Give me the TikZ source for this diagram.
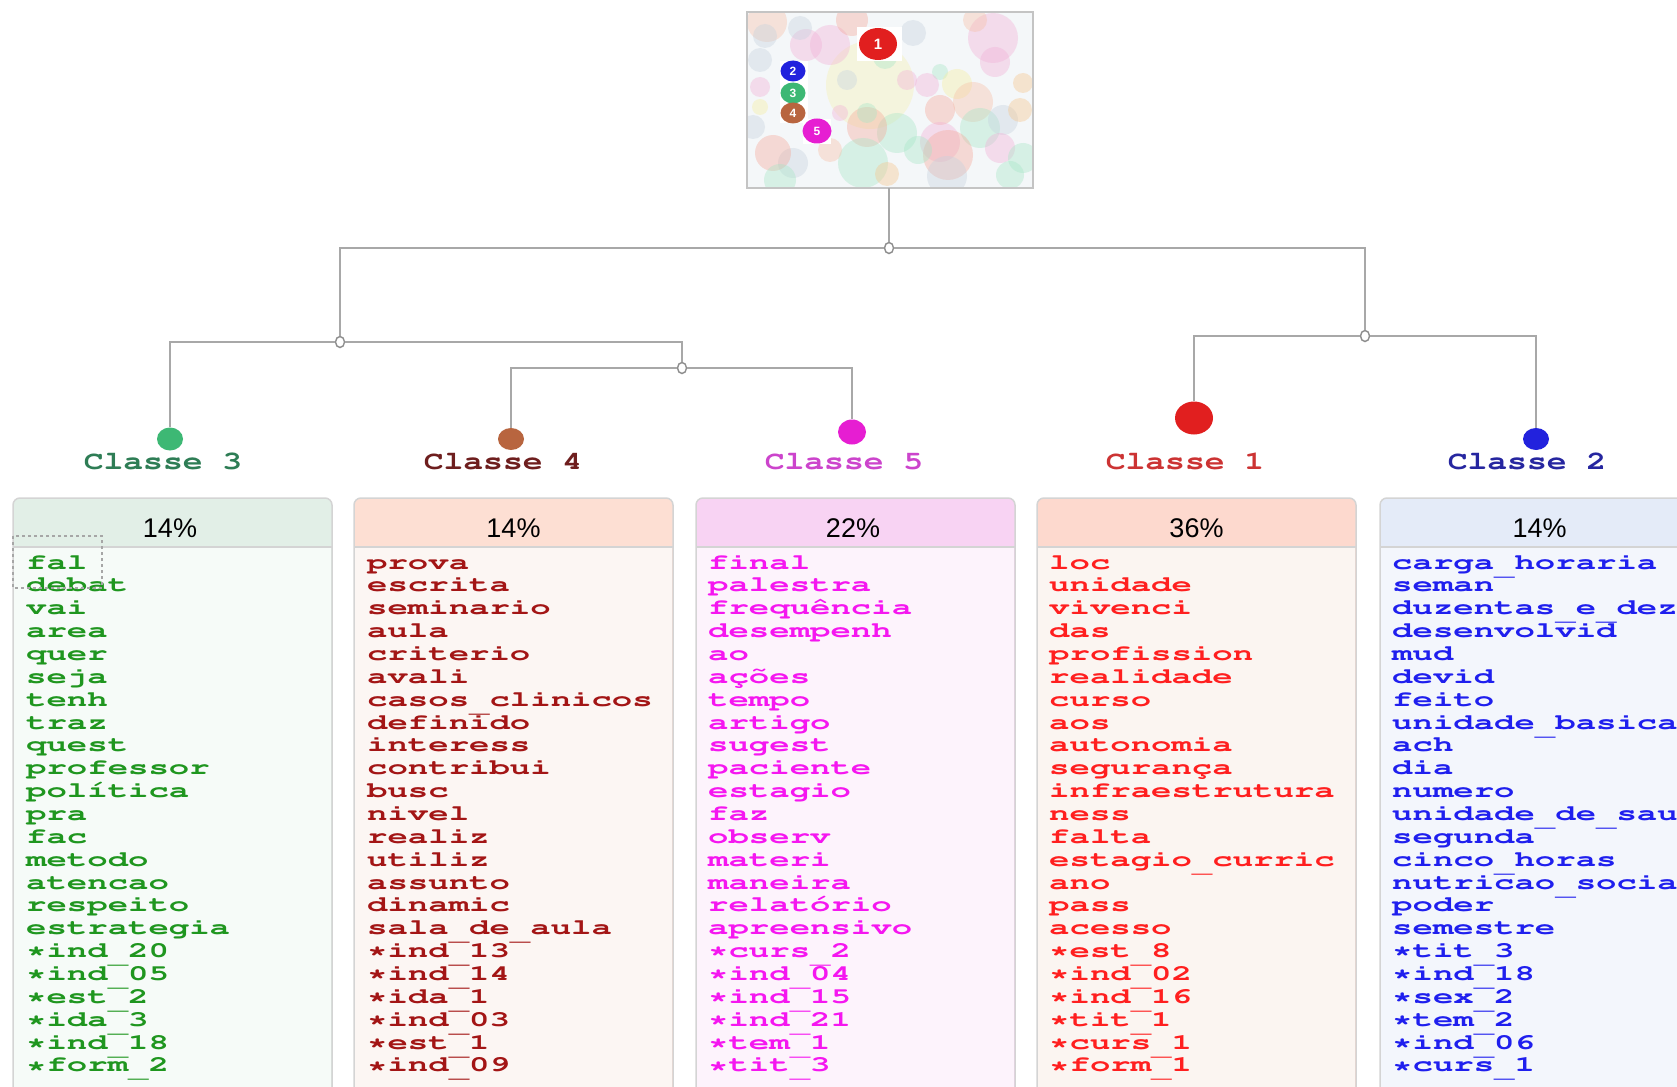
\documentclass[tikz,border=0pt]{standalone}
\usepackage[T1]{fontenc}
\usepackage{fontspec}
\usepackage{graphicx}
\setmainfont{Liberation Sans}
\usetikzlibrary{shapes.geometric}

\definecolor{treeline}{HTML}{A8A8A8}
\definecolor{juncline}{HTML}{8E8E8E}
\definecolor{thumbline}{HTML}{C4C4C4}
\definecolor{thumbbg}{HTML}{F4F7F9}
\definecolor{boxline}{HTML}{D4D4D4}
\definecolor{dA}{HTML}{3DB874}
\definecolor{dB}{HTML}{B8653F}
\definecolor{dC}{HTML}{E61ED2}
\definecolor{dD}{HTML}{E11F1F}
\definecolor{dE}{HTML}{2222DD}
\definecolor{lA}{HTML}{2E7D55}
\definecolor{lB}{HTML}{6E1E1E}
\definecolor{lC}{HTML}{CC44CC}
\definecolor{lD}{HTML}{CC3333}
\definecolor{lE}{HTML}{2626A0}
\definecolor{wA}{HTML}{1F961F}
\definecolor{wB}{HTML}{A31515}
\definecolor{wC}{HTML}{F516F0}
\definecolor{wD}{HTML}{FF1F1F}
\definecolor{wE}{HTML}{1F1FEE}
\definecolor{hA}{HTML}{E2EFE7}
\definecolor{hB}{HTML}{FDDFD3}
\definecolor{hC}{HTML}{F8D3F3}
\definecolor{hD}{HTML}{FDD9CE}
\definecolor{hE}{HTML}{E4EBF8}
\definecolor{bA}{HTML}{F6FBF8}
\definecolor{bB}{HTML}{FCF6F3}
\definecolor{bC}{HTML}{FDF3FC}
\definecolor{bD}{HTML}{FBF5F1}
\definecolor{bE}{HTML}{F3F6FC}
\definecolor{pk}{HTML}{F2B0D6}
\definecolor{pc}{HTML}{F7BFA6}
\definecolor{mt}{HTML}{A6E6C6}
\definecolor{gy}{HTML}{C5D2DE}
\definecolor{yl}{HTML}{F6EE9E}
\definecolor{og}{HTML}{F6C48A}
\definecolor{sl}{HTML}{F4A898}

\newcommand\courw{\fontencoding{T1}\fontfamily{pcr}\fontseries{b}\fontsize{22}{22}\selectfont}
\newcommand\courl{\fontencoding{T1}\fontfamily{pcr}\fontseries{b}\fontsize{26}{26}\selectfont}
\newcommand\wx[1]{\scalebox{1.545}[1]{#1}}
\newcommand\lx[1]{\scalebox{1.27}[1]{#1}}
\newcommand\us{\raisebox{-6pt}{\_}}

\newcommand\mkcol[3]{%
  \draw[fill=#2, draw=boxline, line width=1.5pt, rounded corners=7pt]
    (#1,1120) -- (#1,498) -- (#1+319,498) -- (#1+319,1120);
  \fill[#3] (#1+0.8,547) rectangle (#1+318.2,1120);
  \draw[boxline, line width=1.5pt] (#1,547) -- (#1+319,547);
}

\tikzset{
  tline/.style={draw=treeline, line width=2pt},
  junc/.style={ellipse, draw=juncline, fill=white, line width=1.4pt,
    minimum width=9pt, minimum height=11pt, inner sep=0pt},
  cdot/.style={ellipse, inner sep=0pt},
  clabel/.style={anchor=base, inner sep=0pt, font=\courl},
  word/.style={anchor=base west, inner sep=0pt, font=\courw},
  pct/.style={anchor=base, inner sep=0pt, font=\fontsize{27}{27}\selectfont},
  numdot/.style={ellipse, inner sep=0pt, text=white, font=\bfseries\fontsize{12}{12}\selectfont},
}

\begin{document}
\begin{tikzpicture}[x=1pt,y=-1pt]
\useasboundingbox (0,0) rectangle (1677,1086);
\fill[white] (0,0) rectangle (1677,1086);

% ---------- thumbnail ----------
\node[fill=thumbbg, minimum width=286pt, minimum height=176pt, inner sep=0pt] (thumb) at (890,100) {};
\begin{scope}
  \clip (thumb.south west) rectangle (thumb.north east);
  \fill[yl, opacity=.3] (870,85) circle (44);
  \foreach \x/\y/\rr/\cc in {
    767/22/20/pc, 765/36/12/gy, 806/45/16/pk, 830/45/20/pk, 852/20/16/sl,
    885/57/12/mt, 913/33/13/gy, 993/38/25/pk, 995/62/15/pk, 940/72/8/mt,
    957/84/15/yl, 1023/83/10/og, 973/102/20/pc, 940/110/15/sl, 980/128/20/mt,
    897/133/20/mt, 867/127/20/sl, 840/113/8/pk, 940/142/20/pk, 948/155/25/sl,
    863/163/25/mt, 793/163/15/gy, 773/153/18/sl, 947/176/20/gy, 887/174/12/og,
    1003/120/15/gy, 1020/110/12/og, 760/60/12/gy, 760/87/10/pk, 760/107/8/yl,
    867/113/10/mt, 753/127/12/gy, 1000/148/15/pk, 1023/158/15/mt, 847/80/10/gy,
    907/80/10/pk, 927/85/12/pk, 918/150/14/mt, 830/150/12/pc, 1010/175/14/mt,
    780/180/16/mt, 800/28/12/gy, 975/20/12/pc}
    \fill[\cc, opacity=.38] (\x,\y) circle (\rr);
  \fill[white] (857,27) rectangle (902,61);
  \fill[white] (780,61) rectangle (808,123);
  \fill[white] (803,119) rectangle (831,144);
\end{scope}
\draw[thumbline, line width=2.5pt] (thumb.south west) rectangle (thumb.north east);
\node[numdot, fill=dD, minimum width=38pt, minimum height=32pt, font=\bfseries\fontsize{15}{15}\selectfont] (n1) at (878,44) {1};
\node[numdot, fill=dE, minimum width=25pt, minimum height=21pt] (n2) at (793,71) {2};
\node[numdot, fill=dA, minimum width=25pt, minimum height=21pt] (n3) at (793,93) {3};
\node[numdot, fill=dB, minimum width=25pt, minimum height=21pt] (n4) at (793,113) {4};
\node[numdot, fill=dC, minimum width=29pt, minimum height=25pt] (n5) at (817,131) {5};

% ---------- tree ----------
\node[junc] (R) at (889,248) {};
\node[junc] (A) at (340,342) {};
\node[junc] (B) at (682,368) {};
\node[junc] (C) at (1365,336) {};
\node[cdot, fill=dA, minimum width=26pt, minimum height=23pt] (d3) at (170,439) {};
\node[cdot, fill=dB, minimum width=26pt, minimum height=22pt] (d4) at (511,439) {};
\node[cdot, fill=dC, minimum width=28pt, minimum height=25pt] (d5) at (852,432) {};
\node[cdot, fill=dD, minimum width=38pt, minimum height=33pt] (d1) at (1194,418) {};
\node[cdot, fill=dE, minimum width=26pt, minimum height=22pt] (d2) at (1536,439) {};

\draw[tline] (thumb.south -| R) -- (R);
\draw[tline] (A) |- (R);
\draw[tline] (R) -| (C);
\draw[tline] (d3) |- (A);
\draw[tline] (A) -| (B);
\draw[tline] (d4) |- (B);
\draw[tline] (B) -| (d5);
\draw[tline] (d1) |- (C);
\draw[tline] (C) -| (d2);

\node[clabel, text=lA] (L3) at (163,469) {\lx{Classe 3}};
\node[clabel, text=lB] (L4) at (503,469) {\lx{Classe 4}};
\node[clabel, text=lC] (L5) at (844,469) {\lx{Classe 5}};
\node[clabel, text=lD] (L1) at (1185,469) {\lx{Classe 1}};
\node[clabel, text=lE] (L2) at (1527,469) {\lx{Classe 2}};

% ---------- columns ----------
\mkcol{13}{hA}{bA}
\mkcol{354}{hB}{bB}
\mkcol{696}{hC}{bC}
\mkcol{1037}{hD}{bD}
\mkcol{1380}{hE}{bE}

\node[pct] (p3) at (170,537) {14\%};
\node[pct] (p4) at (513.5,537) {14\%};
\node[pct] (p5) at (853,537) {22\%};
\node[pct] (p1) at (1196.5,537) {36\%};
\node[pct] (p2) at (1539.5,537) {14\%};

\foreach \w [count=\i from 0] in {fal,debat,vai,area,quer,seja,tenh,traz,quest,professor,política,pra,fac,metodo,atencao,respeito,estrategia,*ind\us20,*ind\us05,*est\us2,*ida\us3,*ind\us18,*form\us2}
  \node[word, text=wA] (wa\i) at (26,569+\i*22.86) {\wx{\w}};

\foreach \w [count=\i from 0] in {prova,escrita,seminario,aula,criterio,avali,casos\us clinicos,definido,interess,contribui,busc,nivel,realiz,utiliz,assunto,dinamic,sala\us de\us aula,*ind\us13,*ind\us14,*ida\us1,*ind\us03,*est\us1,*ind\us09}
  \node[word, text=wB] (wb\i) at (367,569+\i*22.86) {\wx{\w}};

\foreach \w [count=\i from 0] in {final,palestra,frequência,desempenh,ao,ações,tempo,artigo,sugest,paciente,estagio,faz,observ,materi,maneira,relatório,apreensivo,*curs\us2,*ind\us04,*ind\us15,*ind\us21,*tem\us1,*tit\us3}
  \node[word, text=wC] (wc\i) at (708,569+\i*22.86) {\wx{\w}};

\foreach \w [count=\i from 0] in {loc,unidade,vivenci,das,profission,realidade,curso,aos,autonomia,segurança,infraestrutura,ness,falta,estagio\us curric,ano,pass,acesso,*est\us8,*ind\us02,*ind\us16,*tit\us1,*curs\us1,*form\us1}
  \node[word, text=wD] (wd\i) at (1049,569+\i*22.86) {\wx{\w}};

\foreach \w [count=\i from 0] in {carga\us horaria,seman,duzentas\us e\us dez,desenvolvid,mud,devid,feito,unidade\us basica,ach,dia,numero,unidade\us de\us sau,segunda,cinco\us horas,nutricao\us socia,poder,semestre,*tit\us3,*ind\us18,*sex\us2,*tem\us2,*ind\us06,*curs\us1}
  \node[word, text=wE] (we\i) at (1392,569+\i*22.86) {\wx{\w}};

% focus outline
\draw[draw=gray!70, line width=1.3pt, dash pattern=on 3pt off 3pt] (13,536) rectangle (102,588);
\end{tikzpicture}
\end{document}
